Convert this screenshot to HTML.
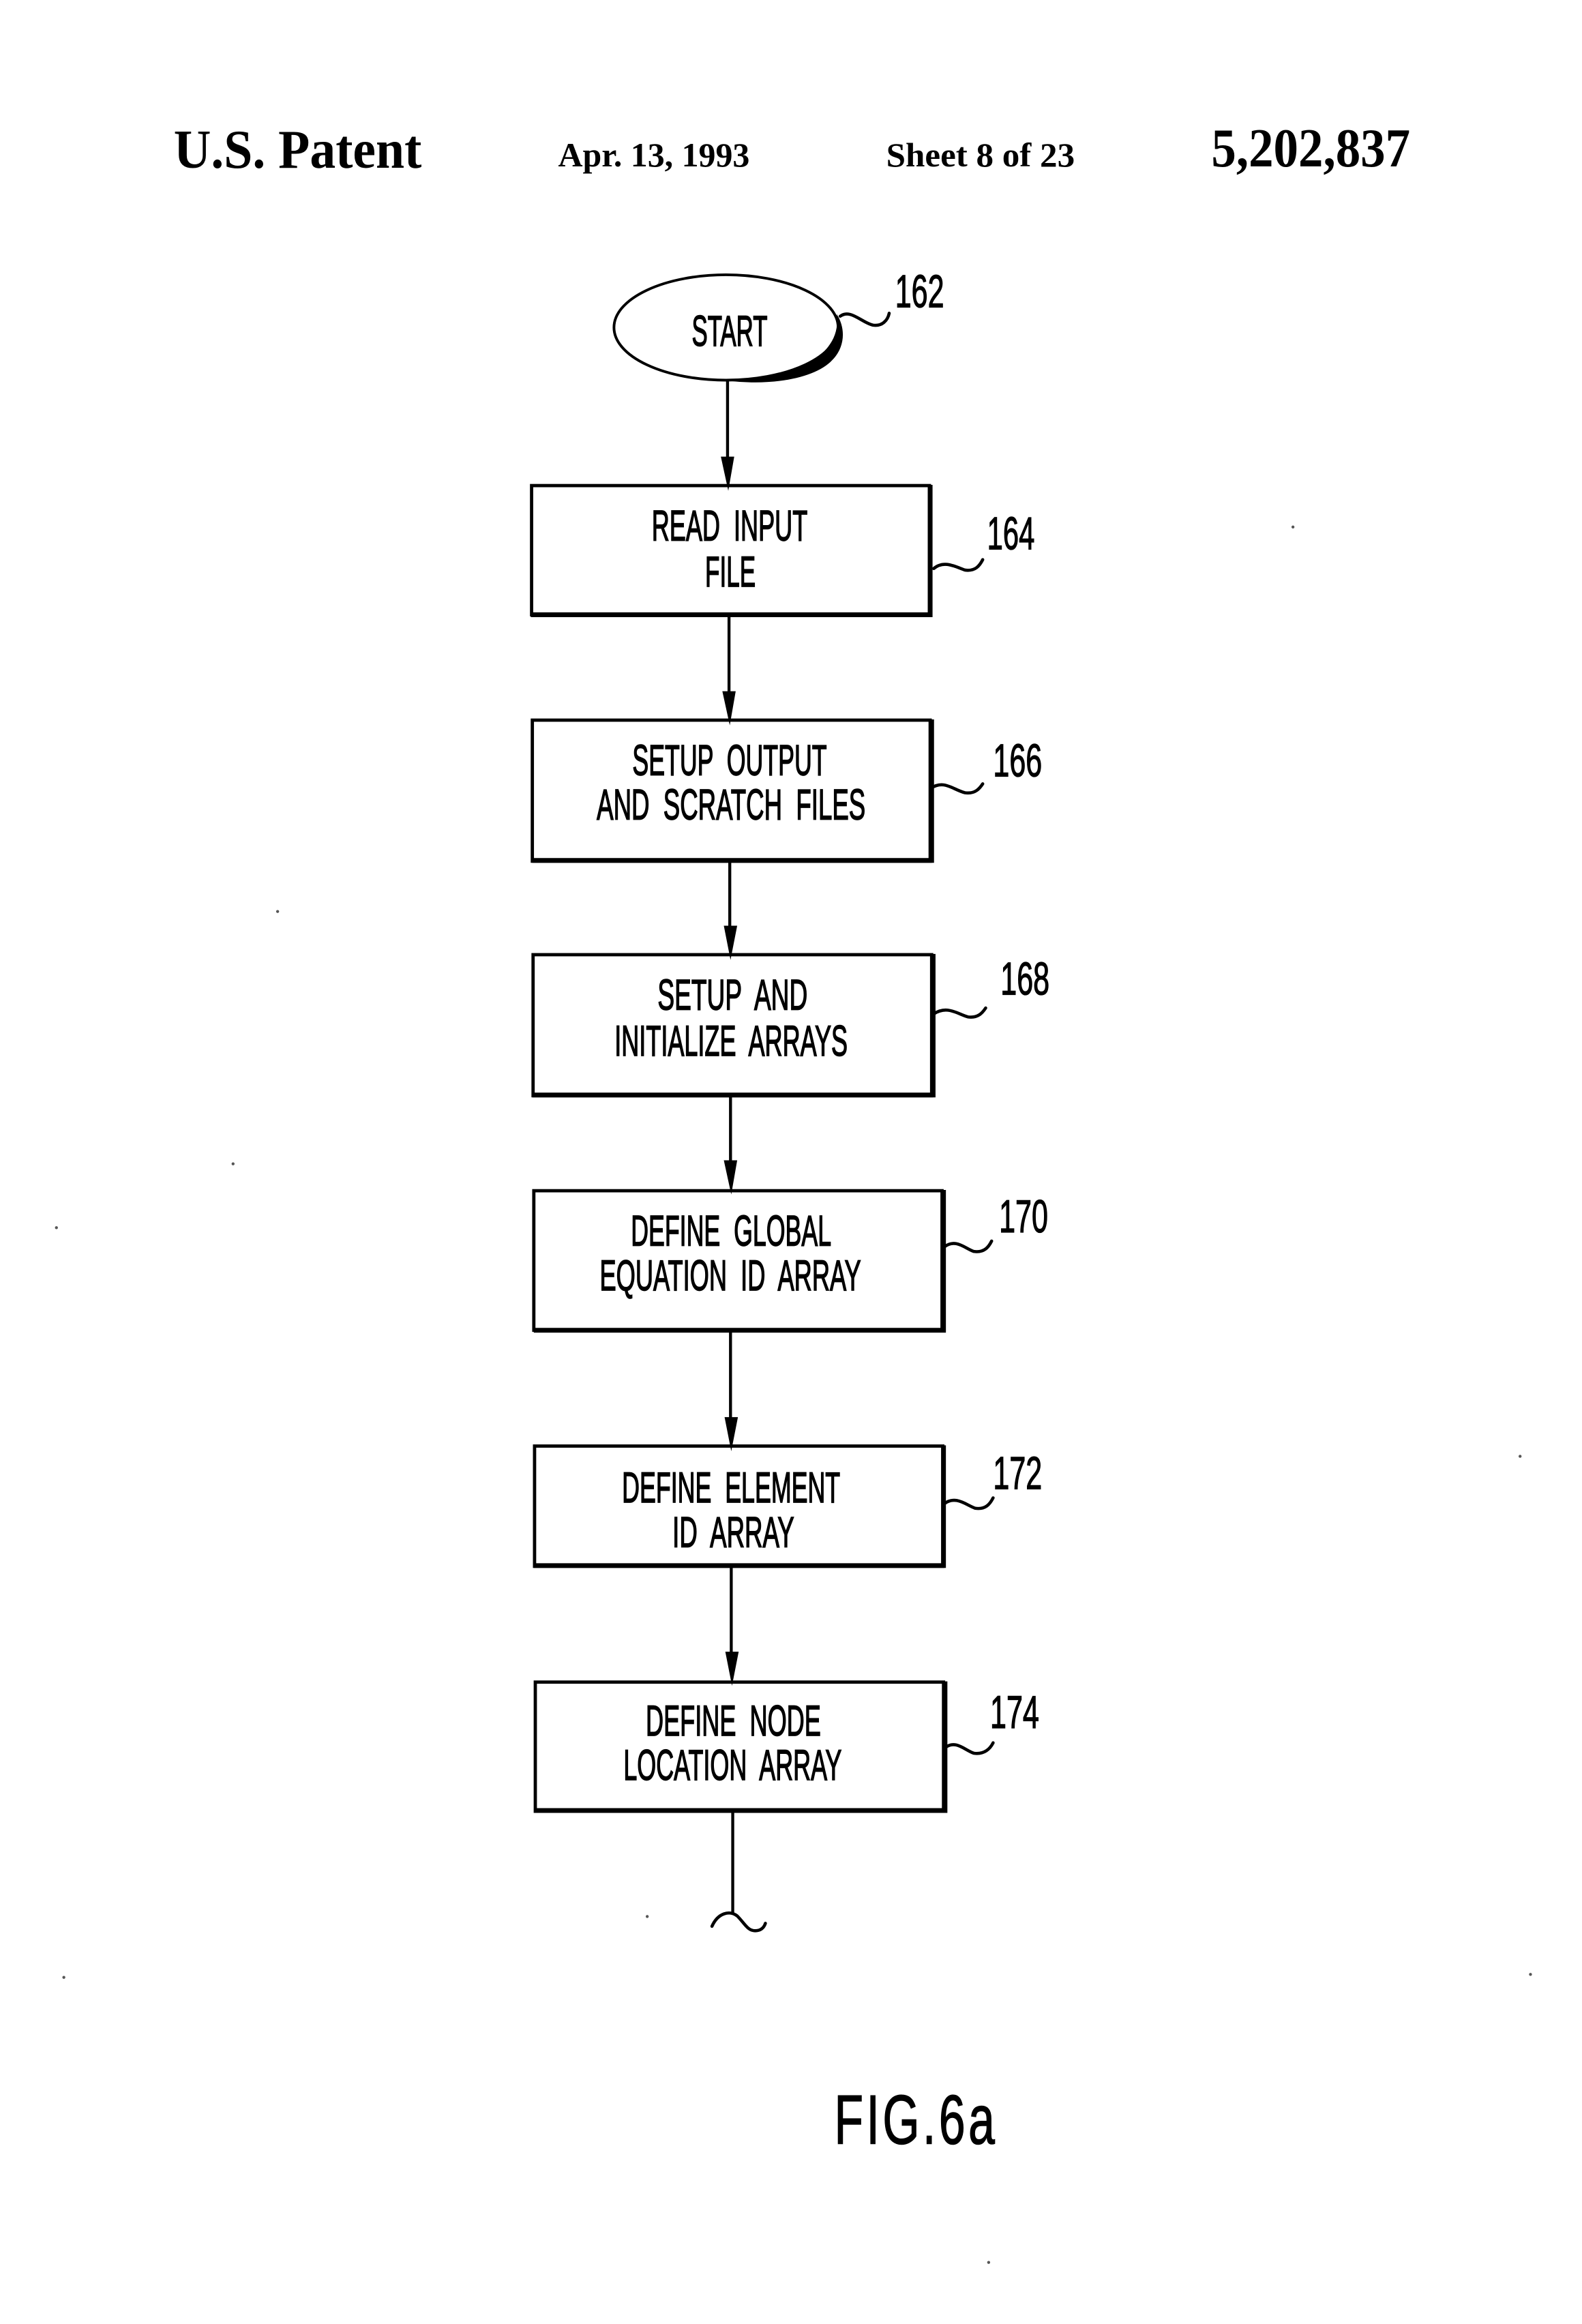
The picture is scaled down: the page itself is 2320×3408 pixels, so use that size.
<!DOCTYPE html>
<html><head><meta charset="utf-8"><style>
html,body{margin:0;padding:0;background:#fff}
svg{display:block}
text{white-space:pre}
.t{font-family:"Liberation Sans",sans-serif;font-size:29px;fill:#000;stroke:#000;stroke-width:.75px}
.n{font-family:"Liberation Sans",sans-serif;font-size:31px;fill:#000;stroke:#000;stroke-width:.6px}
.h{font-family:"Liberation Serif",serif;font-weight:bold;fill:#000}
path.q{fill:none;stroke:#000;stroke-width:2.100;stroke-linecap:round}
</style></head><body>
<svg xmlns="http://www.w3.org/2000/svg" width="2320" height="3408" viewBox="0 0 1065.7 1565.5">
<rect width="1066" height="1566" fill="#fff"/>
<g transform="translate(-1,-1)">
<text class="h" x="118" y="114" font-size="37" textLength="167" lengthAdjust="spacingAndGlyphs">U.S. Patent</text>
<text class="h" x="377" y="113" font-size="23" textLength="129" lengthAdjust="spacingAndGlyphs">Apr. 13, 1993</text>
<text class="h" x="598" y="113" font-size="23" textLength="127" lengthAdjust="spacingAndGlyphs">Sheet 8 of 23</text>
<text class="h" x="817" y="113" font-size="37" textLength="134" lengthAdjust="spacingAndGlyphs">5,202,837</text>

<g transform="translate(.6,.6)">
<ellipse cx="489.500" cy="221" rx="75.500" ry="35.500" fill="#fff" stroke="#000" stroke-width="1.800"/>
<path d="M564 212 C566 226 559 237 545 245 C531 252 510 256 488 256.500 C520 261 550 255 561 243 C570 234 570 221 564 212Z" fill="#000"/>

<g fill="none" stroke="#000" stroke-width="2.200">
<rect x="358.500" y="327.500" width="268" height="87"/>
<rect x="359" y="485.500" width="268" height="95"/>
<rect x="359.500" y="643.500" width="268.500" height="95"/>
<rect x="360" y="802.500" width="275" height="94"/>
<rect x="360.500" y="974.500" width="275" height="81"/>
<rect x="361" y="1133.500" width="275" height="87"/>
</g>
<g stroke="#000" stroke-width="3.200" fill="none">
<path d="M358 414.500H627V327"/>
<path d="M359 580H628V485"/>
<path d="M359 738H629V643"/>
<path d="M360 896.500H636V802"/>
<path d="M360 1055H636V974"/>
<path d="M361 1220H637V1133"/>
</g>

<g stroke="#000" stroke-width="2" fill="none">
<path d="M490.500 257V312"/>
<path d="M491.500 415V470"/>
<path d="M492 581V628"/>
<path d="M492.500 739V786"/>
<path d="M492.500 897V960"/>
<path d="M493 1056V1118"/>
<path d="M494 1221V1289"/>
</g>
<g fill="#000">
<path d="M486 308H495L491 331Z"/>
<path d="M487 466H496L492 489Z"/>
<path d="M488 624H497L492.500 647Z"/>
<path d="M488 782H497L493 805Z"/>
<path d="M488.500 955H497.500L493 978Z"/>
<path d="M489 1113H498L493.500 1136Z"/>
</g>
<path class="q" d="M480 1298 C484 1289 492 1287 497 1291 C502 1296 504 1301 509 1301 C513 1301 515 1299 516 1296"/>
</g>

<g transform="translate(0,-1)">
<text class="t" x="467" y="235" textLength="51" lengthAdjust="spacingAndGlyphs">START</text>
<text class="t" x="440" y="366" textLength="105" lengthAdjust="spacingAndGlyphs">READ  INPUT</text>
<text class="t" x="476" y="397" textLength="34" lengthAdjust="spacingAndGlyphs">FILE</text>
<text class="t" x="427" y="524" textLength="131" lengthAdjust="spacingAndGlyphs">SETUP  OUTPUT</text>
<text class="t" x="403" y="554" textLength="181" lengthAdjust="spacingAndGlyphs">AND  SCRATCH  FILES</text>
<text class="t" x="444" y="682" textLength="101" lengthAdjust="spacingAndGlyphs">SETUP  AND</text>
<text class="t" x="415" y="713" textLength="157" lengthAdjust="spacingAndGlyphs">INITIALIZE  ARRAYS</text>
<text class="t" x="426" y="841" textLength="135" lengthAdjust="spacingAndGlyphs">DEFINE  GLOBAL</text>
<text class="t" x="405" y="871" textLength="176" lengthAdjust="spacingAndGlyphs">EQUATION  ID  ARRAY</text>
<text class="t" x="420" y="1014" textLength="147" lengthAdjust="spacingAndGlyphs">DEFINE  ELEMENT</text>
<text class="t" x="454" y="1044" textLength="82" lengthAdjust="spacingAndGlyphs">ID  ARRAY</text>
<text class="t" x="436" y="1171" textLength="118" lengthAdjust="spacingAndGlyphs">DEFINE  NODE</text>
<text class="t" x="421" y="1201" textLength="147" lengthAdjust="spacingAndGlyphs">LOCATION  ARRAY</text>
</g>

<text class="n" x="604" y="208" textLength="33" lengthAdjust="spacingAndGlyphs">162</text>
<text class="n" x="666" y="371" textLength="32" lengthAdjust="spacingAndGlyphs">164</text>
<text class="n" x="670" y="524" textLength="33" lengthAdjust="spacingAndGlyphs">166</text>
<text class="n" x="675" y="671" textLength="33" lengthAdjust="spacingAndGlyphs">168</text>
<text class="n" x="674" y="831" textLength="33" lengthAdjust="spacingAndGlyphs">170</text>
<text class="n" x="670" y="1004" textLength="33" lengthAdjust="spacingAndGlyphs">172</text>
<text class="n" x="668" y="1165" textLength="33" lengthAdjust="spacingAndGlyphs">174</text>

<path class="q" d="M567 214 C574 209 581 218 589 220 C595 221 599 217 600 212"/>
<path class="q" d="M630 384 C637 378 645 383 651 385 C658 386 661 382 663 378"/>
<path class="q" d="M628 532 C637 526 643 533 651 535 C658 536 661 532 663 529"/>
<path class="q" d="M630 684 C639 678 646 684 653 686 C660 687 663 683 665 680"/>
<path class="q" d="M637 841 C645 835 651 842 657 844 C664 845 667 841 669 837"/>
<path class="q" d="M637 1014 C645 1008 652 1015 658 1017 C665 1018 668 1014 670 1010"/>
<path class="q" d="M638 1178 C645 1173 651 1180 657 1182 C664 1183 668 1179 670 1175"/>

<text transform="translate(563,1445) scale(.68,1)" x="0" y="0" font-family="Liberation Sans, sans-serif" font-size="47" fill="#000" stroke="#000" stroke-width=".7" textLength="159" lengthAdjust="spacing">FIG.6a</text>

<g fill="#555">
<circle cx="872" cy="356" r="1"/><circle cx="1025" cy="982" r="1"/><circle cx="1032" cy="1331" r="1"/>
<circle cx="667" cy="1525" r="1"/><circle cx="39" cy="828" r="1"/><circle cx="44" cy="1333" r="1"/>
<circle cx="437" cy="1292" r="1"/><circle cx="158" cy="785" r="1"/><circle cx="188" cy="615" r="1"/>
</g>
</g>
</svg>
</body></html>
